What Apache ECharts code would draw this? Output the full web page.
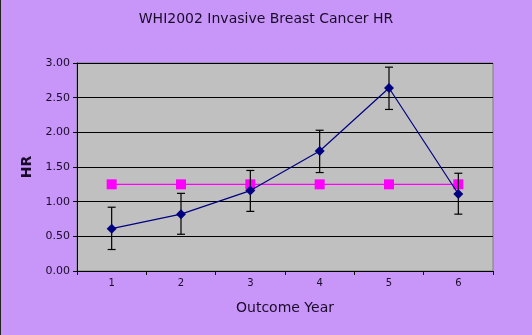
<!DOCTYPE html>
<html><head><meta charset="utf-8">
<script src="https://cdn.jsdelivr.net/npm/echarts@6/dist/echarts.min.js"></script>
<style>html,body{margin:0;padding:0;background:#c896f8;}#c{width:532px;height:335px;}</style>
</head><body><div id="c"></div>
<script>
const categories = ['1','2','3','4','5','6'];
const hrValues = [0.61, 0.82, 1.16, 1.73, 2.64, 1.11];
const hrLower = [0.31, 0.53, 0.86, 1.42, 2.33, 0.82];
const hrUpper = [0.92, 1.12, 1.45, 2.03, 2.94, 1.41];
const refValues = [1.25, 1.25, 1.25, 1.25, 1.25, 1.25];
const yTicks = [0, 0.5, 1, 1.5, 2, 2.5, 3];

const errData = categories.map((c, i) => [i, hrLower[i], hrUpper[i]]);
const font = 'DejaVu Sans';
const chart = echarts.init(document.getElementById('c'), null, {renderer: 'canvas'});
chart.setOption({
  backgroundColor: '#c896f8',
  animation: false,
  title: {text: 'WHI2002 Invasive Breast Cancer HR', left: 'center', top: 7,
    textStyle: {fontFamily: font, fontSize: 14, fontWeight: 'normal', color: '#1a0a2a'}},
  graphic: [{type: 'line', shape: {x1: 0.5, y1: 0, x2: 0.5, y2: 335}, style: {stroke: '#222', lineWidth: 1}}],
  grid: {left: 77, right: 39, top: 63, bottom: 64, show: true, backgroundColor: '#c0c0c0', borderColor: '#808080', borderWidth: 1},
  xAxis: {type: 'category', data: categories, boundaryGap: true,
    name: 'Outcome Year', nameLocation: 'middle', nameGap: 30,
    nameTextStyle: {fontFamily: font, fontSize: 14, color: '#1a0a2a'},
    axisLine: {lineStyle: {color: '#000', width: 1}},
    axisTick: {show: true, alignWithLabel: false, length: 4, lineStyle: {color: '#000'}},
    axisLabel: {fontFamily: font, fontSize: 10, color: '#1a0a2a', margin: 7},
    splitLine: {show: false}},
  yAxis: {type: 'value', min: 0, max: 3, interval: 0.5,
    name: 'HR', nameLocation: 'middle', nameGap: 43,
    nameTextStyle: {fontFamily: font, fontSize: 14, fontWeight: 'bold', color: '#1a0a2a'},
    axisLine: {show: true, lineStyle: {color: '#000', width: 1}},
    axisTick: {show: true, length: 4, lineStyle: {color: '#000'}},
    axisLabel: {fontFamily: font, fontSize: 11, color: '#1a0a2a', margin: 7,
      formatter: v => yTicks.includes(v) ? v.toFixed(2) : ''},
    splitLine: {show: true, lineStyle: {color: '#000', width: 1}}},
  series: [
    {type: 'line', data: refValues, symbol: 'rect', symbolSize: 10,
      itemStyle: {color: '#ff00ff'}, lineStyle: {color: '#ff00ff', width: 1.2}, z: 2},
    {type: 'custom', data: errData, z: 3,
      renderItem: function (params, api) {
        const x = api.value(0);
        const lo = api.coord([x, api.value(1)]);
        const hi = api.coord([x, api.value(2)]);
        const w = 4;
        const st = {stroke: '#000', lineWidth: 1.2};
        return {type: 'group', children: [
          {type: 'line', shape: {x1: lo[0], y1: lo[1], x2: hi[0], y2: hi[1]}, style: st},
          {type: 'line', shape: {x1: lo[0] - w, y1: lo[1], x2: lo[0] + w, y2: lo[1]}, style: st},
          {type: 'line', shape: {x1: hi[0] - w, y1: hi[1], x2: hi[0] + w, y2: hi[1]}, style: st}
        ]};
      }},
    {type: 'line', data: hrValues, symbol: 'diamond', symbolSize: 10,
      itemStyle: {color: '#000080'}, lineStyle: {color: '#000080', width: 1.2}, z: 4}
  ]
});
</script></body></html>
